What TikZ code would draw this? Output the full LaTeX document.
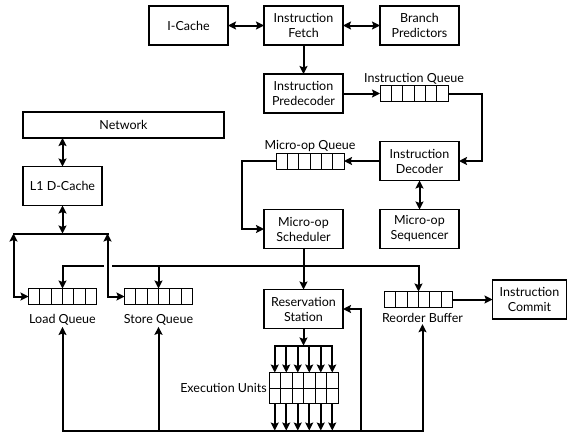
\documentclass[tikz,border=0pt]{standalone}
\usepackage{fontspec}
\setmainfont{Lato}
\usetikzlibrary{positioning, arrows.meta, calc}

\begin{document}
\begin{tikzpicture}[
	x=1pt, y=-1pt,
	>={Stealth[length=8pt, width=8pt, inset=1.5pt]},
	font=\fontsize{12.5}{15}\selectfont,
	% Define styles
	unit/.style={rectangle, draw, line width=1.3pt, minimum width=79pt, minimum height=39pt, inner sep=1pt, outer sep=0pt, align=center},
	queue/.style={rectangle, draw, line width=0.9pt, minimum width=68pt, minimum height=16pt, inner sep=0pt, outer sep=0pt,
		path picture={\foreach \k in {1,...,5} \draw[line width=0.9pt] ($(path picture bounding box.south west)!\k/6!(path picture bounding box.south east)$) -- ($(path picture bounding box.north west)!\k/6!(path picture bounding box.north east)$);}},
	exec/.style={rectangle, draw, line width=0.9pt, minimum width=69pt, minimum height=31pt, inner sep=0pt, outer sep=0pt,
		path picture={\foreach \k in {1,...,5} \draw[line width=0.9pt] ($(path picture bounding box.south west)!\k/6!(path picture bounding box.south east)$) -- ($(path picture bounding box.north west)!\k/6!(path picture bounding box.north east)$);
			\draw[line width=0.9pt] (path picture bounding box.west) -- (path picture bounding box.east);}},
	qlabel/.style={inner sep=1pt},
	link/.style={line width=2pt, line cap=rect},
	arrow/.style={->, line width=2pt},
	dblarrow/.style={<->, line width=2pt}
	]
	\useasboundingbox (0,0) rectangle (567,434);
	
	% 1. Front end
	\node[unit] (fetch) at (303.5,25.5) {Instruction\\Fetch};
	\node[unit, left=36pt of fetch] (icache) {I-Cache};
	\node[unit, right=37pt of fetch] (bpred) {Branch\\Predictors};
	\node[unit, below=29pt of fetch] (predec) {Instruction\\Predecoder};
	\node[queue, right=37pt of predec] (iq) {};
	\node[qlabel, above=0pt of iq] (iqlabel) {Instruction Queue};
	\node[unit] (decoder) at (419.5,161) {Instruction\\Decoder};
	\node[queue, left=36pt of decoder] (uq) {};
	\node[qlabel, above=0pt of uq] (uqlabel) {Micro-op Queue};
	\node[unit, below=29pt of decoder] (useq) {Micro-op\\Sequencer};
	\node[unit, left=37pt of useq] (sched) {Micro-op\\Scheduler};
	
	% 2. Back end
	\node[unit, below=41pt of sched] (rs) {Reservation\\Station};
	\node[queue] (rob) at (418.5,299.5) {};
	\node[qlabel, below=5pt of rob, xshift=4pt] (roblabel) {Reorder Buffer};
	\node[unit, minimum width=74pt, right=40pt of rob] (commit) {Instruction\\Commit};
	\node[exec, below=44pt of rs] (eu) {};
	\node[qlabel, left=1pt of eu] (eulabel) {Execution Units};
	
	% 3. Memory side
	\node[unit, minimum width=201pt, minimum height=26pt] (network) at (123.5,125) {Network};
	\node[unit] (l1) at (62.5,186) {L1 D-Cache};
	\node[queue] (lq) at (62.5,296.5) {};
	\node[queue, right=28pt of lq] (sq) {};
	\node[qlabel, below=9pt of lq] (lqlabel) {Load Queue};
	\node[qlabel, below=9pt of sq] (sqlabel) {Store Queue};
	
	% Front end arrows
	\draw[dblarrow] (icache) -- (fetch);
	\draw[dblarrow] (fetch) -- (bpred);
	\draw[arrow] (fetch) -- (predec);
	\draw[arrow] (predec) -- (iq);
	\coordinate[right=23pt of decoder.east] (decin);
	\draw[arrow] (iq.east) -| (decin) -- (decoder.east);
	\draw[arrow] (decoder) -- (uq);
	\coordinate[left=22pt of sched.west] (schedin);
	\draw[arrow] (uq.west) -| (schedin) -- (sched.west);
	\draw[dblarrow] (decoder) -- (useq);
	
	% Dispatch
	\coordinate[below=17pt of sched.south] (dispatch);
	\coordinate[left=17pt of sq.west] (sqin);
	\coordinate[left=15pt of lq.west] (lqin);
	\draw[arrow] (sched.south) -- (rs.north);
	\draw[arrow] (dispatch) -| (rob.north);
	\draw[arrow] (dispatch) -| (sq.north);
	\draw[link] (sq.north |- dispatch) -- ([xshift=5pt]sqin |- dispatch);
	\draw[arrow] ([xshift=-4pt]sqin |- dispatch) -| (lq.north);
	
	% L1 and queues
	\draw[dblarrow] (network.south -| l1.north) -- (l1.north);
	\coordinate[below=28pt of l1.south] (memsplit);
	\draw[dblarrow] (l1.south) -- (memsplit);
	\draw[link] (lqin |- memsplit) -- (sqin |- memsplit);
	\draw[dblarrow] (lq.west) -| (lqin |- memsplit);
	\draw[dblarrow] (sq.west) -| (sqin |- memsplit);
	
	% Issue and execute
	\coordinate[below=17pt of rs.south] (issue);
	\draw[arrow] (rs.south) -- (issue);
	\draw[link] ($(eu.north west)+(5.75,-27)$) -- ($(eu.north east)+(-5.75,-27)$);
	\foreach \k in {1,...,6} {
		\draw[arrow] ($(eu.north west)+({(\k-0.5)*11.5},-27)$) -- ($(eu.north west)+({(\k-0.5)*11.5},0)$);
		\draw[arrow] ($(eu.south west)+({(\k-0.5)*11.5},0)$) -- ($(eu.south west)+({(\k-0.5)*11.5},27)$);
	}
	
	% Write back
	\coordinate[below=27pt of eu.south] (wb);
	\coordinate[right=18pt of rs.east] (rsin);
	\draw[link] (lqlabel |- wb) -- (roblabel |- wb);
	\draw[arrow] (lqlabel |- wb) -- (lqlabel.south);
	\draw[arrow] (sqlabel |- wb) -- (sqlabel.south);
	\draw[arrow] (roblabel |- wb) -- (roblabel.south);
	\draw[arrow] (rsin |- wb) |- (rs.east);
	\draw[arrow] (rob) -- (commit);
\end{tikzpicture}
\end{document}
